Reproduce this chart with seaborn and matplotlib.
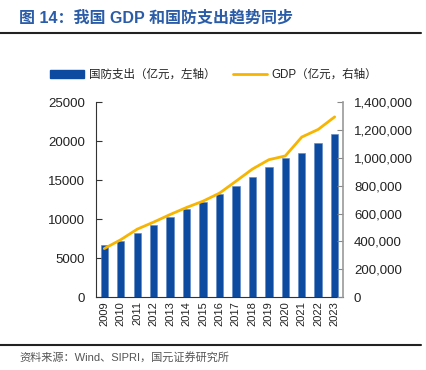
import numpy as np
import pandas as pd
import matplotlib
matplotlib.use("Agg")
import matplotlib.pyplot as plt
import seaborn as sns
from matplotlib.lines import Line2D
from matplotlib.patches import Patch

sns.set_theme(style="white")
plt.rcParams['font.family'] = ['Liberation Sans', 'Noto Sans CJK SC', 'DejaVu Sans']
plt.rcParams['axes.unicode_minus'] = False

years = ['2009', '2010', '2011', '2012', '2013', '2014', '2015', '2016',
         '2017', '2018', '2019', '2020', '2021', '2022', '2023']
defense = [6630, 7180, 8170, 9230, 10260, 11280, 12180, 13200,
           14230, 15380, 16670, 17780, 18460, 19700, 20940]
gdp = [348500, 412100, 487900, 538600, 593000, 643600, 688900, 746400,
       832000, 919300, 986500, 1013600, 1149200, 1204000, 1294000]
left_ticks = [0, 5000, 10000, 15000, 20000, 25000]
right_ticks = [0, 200000, 400000, 600000, 800000, 1000000, 1200000, 1400000]

df = pd.DataFrame({'year': years, 'defense': defense, 'gdp': gdp})
df['pos'] = np.arange(len(df))

bar_color = '#0D4BA0'
line_color = '#F7B500'
text_color = '#222222'

fig = plt.figure(figsize=(4.27, 3.70), dpi=100)
ax = fig.add_axes([0.225, 0.197, 0.578, 0.527])

sns.barplot(data=df, x='year', y='defense', color=bar_color, width=0.45,
            saturation=1, edgecolor='#5C86C4', linewidth=0.4, ax=ax)
ax.set_ylim(0, 25000)
ax.set_xlim(-0.5, len(years) - 0.5)
ax.set_yticks(left_ticks)
ax.set_yticklabels([str(v) for v in left_ticks], fontsize=9.5, color=text_color)
ax.set_xlabel('')
ax.set_ylabel('')
ax.tick_params(axis='x', length=0, labelsize=8, labelcolor=text_color, rotation=90, pad=3)
ax.set_xticks(np.arange(-0.5, len(years), 1), minor=True)
ax.tick_params(axis='x', which='minor', length=3, direction='in', color='#333333', width=0.8)
ax.tick_params(axis='y', length=4, direction='in', color='#333333', width=0.8, pad=8)
for s in ['top', 'right']:
    ax.spines[s].set_visible(False)
ax.spines['left'].set_color('#333333')
ax.spines['bottom'].set_color('#333333')
ax.spines['left'].set_linewidth(0.8)
ax.spines['bottom'].set_linewidth(0.8)

ax2 = ax.twinx()
sns.lineplot(data=df, x='pos', y='gdp', color=line_color, linewidth=2, ax=ax2)
ax2.set_ylim(0, 1400000)
ax2.set_xlim(-0.5, len(years) - 0.5)
ax2.set_yticks(right_ticks)
ax2.set_yticklabels([f'{v:,}' for v in right_ticks], fontsize=9.5, color=text_color)
ax2.set_ylabel('')
ax2.set_xlabel('')
ax2.tick_params(axis='y', length=4, direction='in', color='#888888', width=0.8, pad=8)
for s in ['top', 'left', 'bottom']:
    ax2.spines[s].set_visible(False)
ax2.spines['right'].set_color('#999999')
ax2.spines['right'].set_linewidth(1.2)
ax2.grid(False)
ax.grid(False)

handles = [Patch(facecolor=bar_color, edgecolor=bar_color),
           Line2D([0], [0], color=line_color, linewidth=2)]
labels = ['国防支出（亿元，左轴）', 'GDP（亿元，右轴）']
fig.legend(handles, labels, loc='center', bbox_to_anchor=(0.5, 0.797), ncol=2,
           frameon=False, fontsize=8.3, handlelength=3.0, handleheight=0.6,
           columnspacing=1.5, handletextpad=0.4, labelcolor=text_color)

fig.text(0.045, 0.952, '图 14：我国 GDP 和国防支出趋势同步', fontsize=11.5,
         fontweight='bold', color='#2A5CA8', va='center', ha='left')
fig.add_artist(Line2D([0.0, 0.985], [0.911, 0.911], color='#222222', linewidth=1.5))
fig.add_artist(Line2D([0.0, 0.985], [0.068, 0.068], color='#222222', linewidth=1.5))
fig.text(0.045, 0.033, '资料来源：Wind、SIPRI，国元证券研究所', fontsize=8,
         color='#555555', va='center', ha='left')

fig.savefig('out.png', dpi=100)
